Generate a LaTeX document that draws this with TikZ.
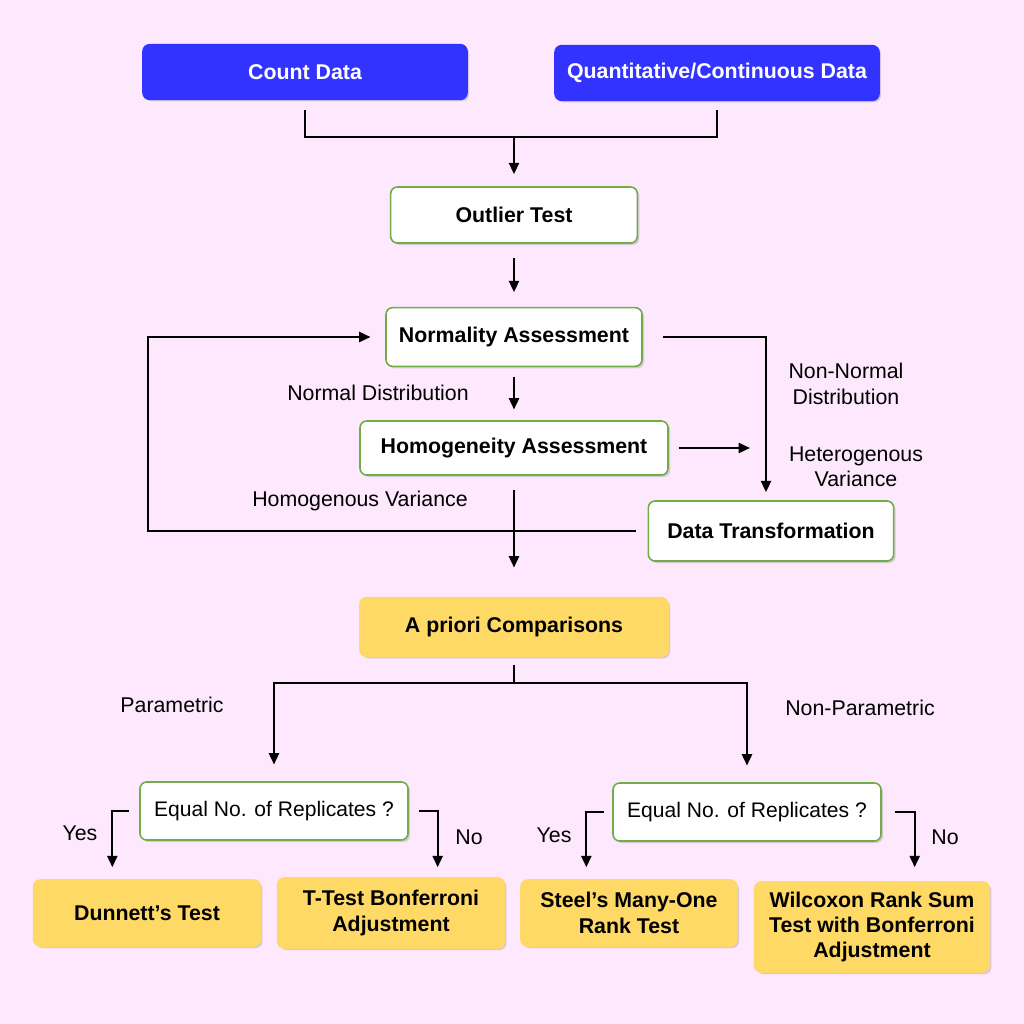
\documentclass[tikz,border=0pt]{standalone}
\usepackage{fontspec}
\setmainfont{Liberation Sans}
\usetikzlibrary{arrows.meta,shadows}

\definecolor{bgpink}{RGB}{253,232,253}
\definecolor{datablue}{RGB}{51,51,255}
\definecolor{boxgreen}{RGB}{112,173,71}
\definecolor{cmpyellow}{RGB}{255,217,102}

\begin{document}
\begin{tikzpicture}[
  x=0.75pt, y=-0.75pt,
  >={Triangle[length=8.5pt,width=7.5pt]},
  line width=1.7pt,
  box/.style={rectangle, rounded corners=5pt, line width=1.2pt, align=center, inner sep=2pt,
    font=\bfseries\fontsize{16}{19}\selectfont,
    drop shadow={shadow xshift=1.5pt, shadow yshift=-1.5pt, opacity=0.3}},
  databox/.style={box, fill=datablue, draw=datablue, text=white,
    minimum width=243pt, minimum height=41pt},
  stepbox/.style={box, fill=white, draw=boxgreen},
  resbox/.style={box, fill=cmpyellow, draw=cmpyellow},
  qbox/.style={stepbox, font=\fontsize{15.8}{19}\selectfont, minimum width=201pt, minimum height=43.5pt},
  lab/.style={font=\fontsize{16}{19}\selectfont, align=center, inner sep=0pt}
]
  % background
  \fill[bgpink] (0,0) rectangle (1024,1024);

  % data types
  \node[databox] (count) at (305,72) {Count Data};
  \node[databox] (quant) at (717,73) {Quantitative/Continuous Data};
  \coordinate (join) at (514,137);

  \node[stepbox, minimum width=185pt, minimum height=42pt] (outlier) at (514,215) {Outlier Test};
  \node[stepbox, minimum width=192pt, minimum height=44pt] (norm) at (514,337) {Normality Assessment};
  \node[stepbox, minimum width=231pt, minimum height=40.5pt] (homo) at (514,448) {Homogeneity Assessment};
  \node[stepbox, minimum width=184pt, minimum height=45pt] (trans) at (771,531) {Data Transformation};
  \coordinate (loopL) at (148,337);
  \coordinate (hetend) at (750,448);

  \node[resbox, minimum width=231pt, minimum height=44pt] (apriori) at (514,627) {A priori Comparisons};
  \coordinate (split) at (514,683);

  \node[qbox] (eqL) at (274,811) {Equal No. of Replicates ?};
  \node[qbox] (eqR) at (747,812) {Equal No. of Replicates ?};

  \node[resbox, minimum width=170pt, minimum height=49.5pt] (dunnett) at (147,913) {Dunnett’s Test};
  \node[resbox, minimum width=170pt, minimum height=52.5pt] (ttest) at (391,913) {T-Test Bonferroni\\Adjustment};
  \node[resbox, minimum width=162pt, minimum height=49.5pt] (steel) at (629,913) {Steel’s Many-One\\Rank Test};
  \node[resbox, minimum width=176pt, minimum height=67.5pt] (wilcox) at (872,927) {Wilcoxon Rank Sum\\Test with Bonferroni\\Adjustment};

  % labels
  \node[lab] (lnormal) at (378,393) {Normal Distribution};
  \node[lab] (lnonnormal) at (846,384) {Non-Normal\\Distribution};
  \node[lab] (lhetero) at (856,467) {Heterogenous\\Variance};
  \node[lab] (lhomo) at (360,501) {Homogenous Variance};
  \node[lab] (lpar) at (172,705) {Parametric};
  \node[lab] (lnonpar) at (860,708) {Non-Parametric};
  \node[lab] (lyesL) at (80,833) {Yes};
  \node[lab] (lnoL) at (469,837) {No};
  \node[lab] (lyesR) at (554,835) {Yes};
  \node[lab] (lnoR) at (945,837) {No};

  % connectors
  \draw ([yshift=-7.5pt]count.south) |- (join) -| ([yshift=-7pt]quant.south);
  \draw[->, shorten >=9pt] (join) -- (outlier);
  \draw[->, shorten <=11pt, shorten >=11pt] (outlier) -- (norm);
  \draw[->, shorten <=7.5pt, shorten >=8pt] (norm) -- (homo);
  \draw[->, shorten <=15pt, shorten >=6pt] (norm.east) -| ([xshift=-3.75pt]trans.north);
  \draw[->, shorten <=7.5pt] (homo.east) -- (hetend);
  \draw[->, shorten >=11pt] ([xshift=-9pt]trans.west) -| (loopL) |- (norm.west);
  \draw[->, shorten <=11pt, shorten >=22pt] (homo) -- (apriori);
  \draw ([yshift=-6pt]apriori.south) -- (split);
  \draw[->, shorten >=12.5pt] (split) -| (eqL.north);
  \draw[->, shorten >=12.5pt] (split) -| (eqR.north);
  \draw[->, shorten <=7.5pt, shorten >=9pt] (eqL.west) -| ([xshift=-26pt]dunnett.north);
  \draw[->, shorten <=7.5pt, shorten >=7.5pt] (eqL.east) -| ([xshift=35pt]ttest.north);
  \draw[->, shorten <=6pt, shorten >=9pt] (eqR.west) -| ([xshift=-32pt]steel.north);
  \draw[->, shorten <=10pt, shorten >=10.5pt] (eqR.east) -| ([xshift=32pt]wilcox.north);
\end{tikzpicture}
\end{document}
